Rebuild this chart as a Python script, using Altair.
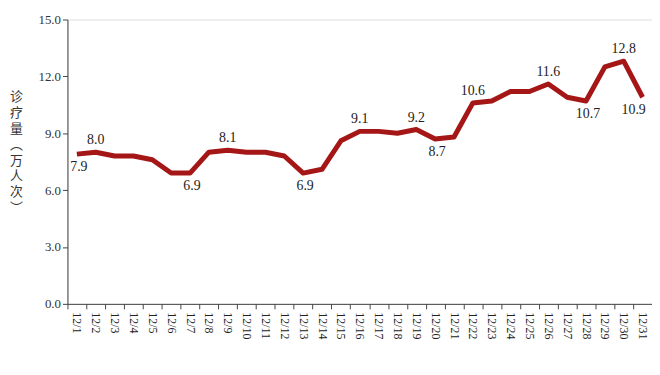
import altair as alt
import pandas as pd

dates = [f"12/{d}" for d in range(1, 32)]
values = [7.9, 8.0, 7.8, 7.8, 7.6, 6.9, 6.9, 8.0, 8.1, 8.0, 8.0, 7.8, 6.9, 7.1, 8.6,
          9.1, 9.1, 9.0, 9.2, 8.7, 8.8, 10.6, 10.7, 11.2, 11.2, 11.6, 10.9, 10.7, 12.5, 12.8, 10.9]
labels_above = ["12/2", "12/9", "12/16", "12/19", "12/22", "12/26", "12/30"]
labels_below = ["12/1", "12/7", "12/13", "12/20", "12/28"]
labels_below_left = ["12/31"]
y_title = ["诊", "疗", "量", "︵", "万", "人", "次", "︶"]

df = pd.DataFrame({"date": dates, "value": values})
df["lab"] = df["value"].map(lambda v: f"{v:.1f}")

serif = "Liberation Serif"

x = alt.X("date:N", sort=dates, title=None,
          scale=alt.Scale(type="band", paddingInner=0, paddingOuter=0),
          axis=alt.Axis(labelAngle=90, labelFont=serif, labelFontSize=12, labelColor="#222",
                        tickBand="extent", tickSize=5, domainColor="#444", tickColor="#444",
                        labelPadding=3))
y = alt.Y("value:Q", scale=alt.Scale(domain=[0, 15]),
          axis=alt.Axis(values=[0, 3, 6, 9, 12, 15], format=".1f", grid=False,
                        labelFont=serif, labelFontSize=13, labelColor="#333",
                        domainColor="#444", tickColor="#444", tickSize=5,
                        title=y_title, titleAngle=0, titleFont="Noto Sans CJK SC",
                        titleFontSize=13, titleFontWeight="normal", titleColor="#333",
                        titleLineHeight=16, titleX=-52, titleY=72,
                        titleAlign="center", titleBaseline="top"))

base = alt.Chart(df)
line = base.mark_line(color="#a51616", strokeWidth=5, strokeJoin="round").encode(x=x, y=y)
above = base.transform_filter(alt.FieldOneOfPredicate(field="date", oneOf=labels_above)).mark_text(
    font=serif, fontSize=14, color="#222", dy=-12).encode(x=x, y=y, text="lab:N")
below = base.transform_filter(alt.FieldOneOfPredicate(field="date", oneOf=labels_below)).mark_text(
    font=serif, fontSize=14, color="#222", dy=13, dx=2).encode(x=x, y=y, text="lab:N")
below_left = base.transform_filter(alt.FieldOneOfPredicate(field="date", oneOf=labels_below_left)).mark_text(
    font=serif, fontSize=14, color="#222", dy=13, dx=-9).encode(x=x, y=y, text="lab:N")

chart = (line + above + below + below_left).properties(
    width=590, height=287,
    autosize=alt.AutoSizeParams(type="none"),
    padding={"left": 60, "top": 10, "right": 0, "bottom": 50},
).configure_view(stroke=None).configure(background="white")

chart.save("out.html", embed_options={"renderer": "svg", "actions": False})
